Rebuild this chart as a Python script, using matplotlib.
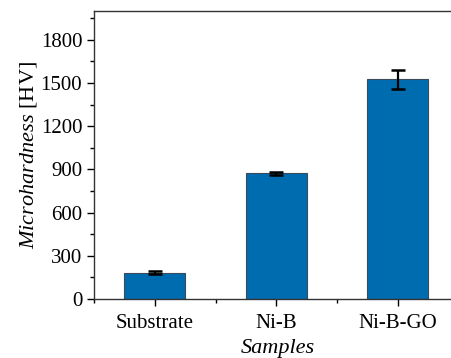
import matplotlib
matplotlib.use("Agg")
import matplotlib.pyplot as plt
from matplotlib.ticker import MultipleLocator

# 数据
samples = ["Substrate", "Ni-B", "Ni-B-GO"]
hardness = [182, 874, 1525]
hardness_err = [10, 10, 65]

plt.rcParams["font.family"] = ["Liberation Serif", "DejaVu Serif"]
plt.rcParams["mathtext.fontset"] = "custom"
plt.rcParams["mathtext.rm"] = "Liberation Serif"
plt.rcParams["mathtext.it"] = "Liberation Serif:italic"

fig = plt.figure(figsize=(4.52, 3.58), dpi=100)
ax = fig.add_axes([94 / 452, 1 - 299 / 358, 1.02 - 94 / 452, (299 - 11) / 358])

x = range(len(samples))
ax.bar(x, hardness, width=0.5, color="#006cb0", edgecolor="#3a4a5a", linewidth=0.8,
       yerr=hardness_err, capsize=5,
       error_kw=dict(ecolor="black", elinewidth=1.6, capthick=1.8))

ax.set_xlim(-0.5, 2.52)
ax.set_ylim(0, 2000)
ax.set_xticks(list(x))
ax.set_xticklabels(samples)
ax.xaxis.set_minor_locator(MultipleLocator(0.5))
ax.yaxis.set_major_locator(MultipleLocator(300))
ax.yaxis.set_minor_locator(MultipleLocator(150))

ax.tick_params(axis="both", which="major", direction="out", length=5, width=1.0,
               labelsize=15, colors="black")
ax.tick_params(axis="both", which="minor", direction="out", length=3, width=1.0)
ax.tick_params(axis="x", which="major", pad=6)

for s in ["left", "bottom", "top"]:
    ax.spines[s].set_linewidth(1.0)
    ax.spines[s].set_color("#333333")
ax.spines["right"].set_visible(False)

ax.set_ylabel("$\\it{Microhardness}$ [HV]", fontsize=16, labelpad=1)
ax.set_xlabel("Samples", fontsize=16, fontstyle="italic", labelpad=4)

fig.savefig("out.png", dpi=100)
